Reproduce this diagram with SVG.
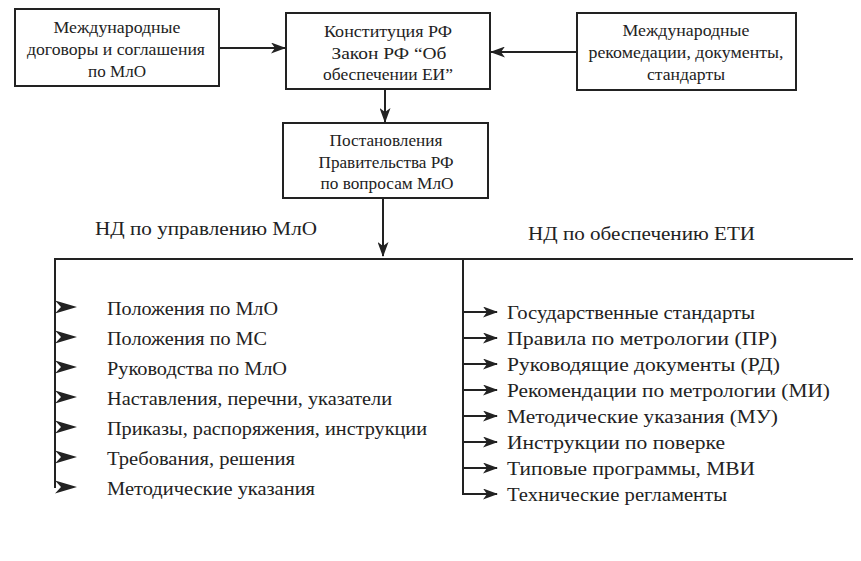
<svg xmlns="http://www.w3.org/2000/svg" xmlns:xlink="http://www.w3.org/1999/xlink" width="861" height="561" viewBox="0 0 861 561">
<style>
.box{fill:#fff;stroke:#222;stroke-width:2}
.bt{font-family:"Liberation Serif","Times New Roman",serif;font-size:17.5px;fill:#222;text-anchor:middle}
.hd{font-family:"Liberation Serif","Times New Roman",serif;font-size:19px;fill:#222}
.it{font-family:"Liberation Serif","Times New Roman",serif;font-size:19px;fill:#222}
.ir{font-family:"Liberation Serif","Times New Roman",serif;font-size:19.5px;fill:#222}
.ln{fill:none;stroke:#222;stroke-width:2}
</style>
<defs>
<marker id="ah" viewBox="0 0 15 11" refX="14" refY="5.5" markerWidth="15" markerHeight="11" markerUnits="userSpaceOnUse" orient="auto">
<path d="M0,0 L15,5.5 L0,11 L4,5.5 z" fill="#222"/>
</marker>
<path id="la" d="M0,-6.5 L22,0 L0,6.5 L6,0 z" fill="#222"/>
</defs>
<rect width="861" height="561" fill="#fff"/>

<g id="n1">
<rect class="box" x="15" y="9" width="204" height="77"/>
<text class="bt" x="117" y="33" textLength="127" lengthAdjust="spacingAndGlyphs">Международные</text>
<text class="bt" x="116" y="55" textLength="178" lengthAdjust="spacingAndGlyphs">договоры и соглашения</text>
<text class="bt" x="117" y="77" textLength="58" lengthAdjust="spacingAndGlyphs">по МлО</text>
</g>
<g id="n2">
<rect class="box" x="286" y="13" width="204" height="76"/>
<text class="bt" x="388" y="37" textLength="128" lengthAdjust="spacingAndGlyphs">Конституция РФ</text>
<text class="bt" x="389" y="59" textLength="115" lengthAdjust="spacingAndGlyphs">Закон РФ  “Об</text>
<text class="bt" x="388" y="80" textLength="130" lengthAdjust="spacingAndGlyphs">обеспечении ЕИ”</text>
</g>
<g id="n3">
<rect class="box" x="283" y="123" width="205" height="75"/>
<text class="bt" x="386" y="146" textLength="113" lengthAdjust="spacingAndGlyphs">Постановления</text>
<text class="bt" x="386" y="168" textLength="135" lengthAdjust="spacingAndGlyphs">Правительства РФ</text>
<text class="bt" x="387" y="189" textLength="133" lengthAdjust="spacingAndGlyphs">по вопросам МлО</text>
</g>
<g id="n4">
<rect class="box" x="577" y="13" width="219" height="77"/>
<text class="bt" x="686" y="36" textLength="127" lengthAdjust="spacingAndGlyphs">Международные</text>
<text class="bt" x="686" y="58" textLength="195" lengthAdjust="spacingAndGlyphs">рекомедации, документы,</text>
<text class="bt" x="686" y="80" textLength="78" lengthAdjust="spacingAndGlyphs">стандарты</text>
</g>

<g id="connectors">
<line class="ln" x1="219" y1="48" x2="285" y2="48" marker-end="url(#ah)"/>
<line class="ln" x1="577" y1="52" x2="491" y2="52" marker-end="url(#ah)"/>
<line class="ln" x1="385" y1="89" x2="385" y2="122" marker-end="url(#ah)"/>
<line class="ln" x1="383" y1="198" x2="383" y2="256" marker-end="url(#ah)"/>
<line class="ln" x1="54" y1="259" x2="853" y2="259"/>
<line class="ln" x1="55" y1="259" x2="55" y2="488"/>
<line class="ln" x1="463" y1="259" x2="463" y2="495"/>
<use xlink:href="#la" x="55" y="307"/>
<use xlink:href="#la" x="55" y="337"/>
<use xlink:href="#la" x="55" y="367"/>
<use xlink:href="#la" x="55" y="397"/>
<use xlink:href="#la" x="55" y="427"/>
<use xlink:href="#la" x="55" y="457"/>
<use xlink:href="#la" x="55" y="487"/>
<line class="ln" x1="462" y1="312" x2="497" y2="312" marker-end="url(#ah)"/>
<line class="ln" x1="462" y1="338" x2="497" y2="338" marker-end="url(#ah)"/>
<line class="ln" x1="462" y1="364" x2="497" y2="364" marker-end="url(#ah)"/>
<line class="ln" x1="462" y1="390" x2="497" y2="390" marker-end="url(#ah)"/>
<line class="ln" x1="462" y1="416" x2="497" y2="416" marker-end="url(#ah)"/>
<line class="ln" x1="462" y1="442" x2="497" y2="442" marker-end="url(#ah)"/>
<line class="ln" x1="462" y1="468" x2="497" y2="468" marker-end="url(#ah)"/>
<line class="ln" x1="462" y1="494" x2="497" y2="494" marker-end="url(#ah)"/>
</g>

<g id="headers">
<text class="hd" x="95" y="235" textLength="222" lengthAdjust="spacingAndGlyphs">НД по управлению МлО</text>
<text class="hd" x="528" y="240" textLength="227" lengthAdjust="spacingAndGlyphs">НД по обеспечению ЕТИ</text>
</g>

<g id="left-items">
<text class="it" x="107" y="315" textLength="171" lengthAdjust="spacingAndGlyphs">Положения по МлО</text>
<text class="it" x="107" y="345" textLength="160" lengthAdjust="spacingAndGlyphs">Положения по МС</text>
<text class="it" x="107" y="375" textLength="180" lengthAdjust="spacingAndGlyphs">Руководства по МлО</text>
<text class="it" x="107" y="405" textLength="285" lengthAdjust="spacingAndGlyphs">Наставления, перечни, указатели</text>
<text class="it" x="107" y="435" textLength="320" lengthAdjust="spacingAndGlyphs">Приказы, распоряжения, инструкции</text>
<text class="it" x="107" y="465" textLength="188" lengthAdjust="spacingAndGlyphs">Требования, решения</text>
<text class="it" x="107" y="495" textLength="208" lengthAdjust="spacingAndGlyphs">Методические указания</text>
</g>

<g id="right-items">
<text class="ir" x="507" y="319" textLength="248" lengthAdjust="spacingAndGlyphs">Государственные стандарты</text>
<text class="ir" x="507" y="345" textLength="270" lengthAdjust="spacingAndGlyphs">Правила по метрологии (ПР)</text>
<text class="ir" x="507" y="371" textLength="273" lengthAdjust="spacingAndGlyphs">Руководящие документы (РД)</text>
<text class="ir" x="507" y="397" textLength="323" lengthAdjust="spacingAndGlyphs">Рекомендации по метрологии (МИ)</text>
<text class="ir" x="507" y="423" textLength="271" lengthAdjust="spacingAndGlyphs">Методические указания (МУ)</text>
<text class="ir" x="507" y="449" textLength="218" lengthAdjust="spacingAndGlyphs">Инструкции по поверке</text>
<text class="ir" x="507" y="475" textLength="248" lengthAdjust="spacingAndGlyphs">Типовые программы, МВИ</text>
<text class="ir" x="507" y="501" textLength="220" lengthAdjust="spacingAndGlyphs">Технические регламенты</text>
</g>
</svg>
